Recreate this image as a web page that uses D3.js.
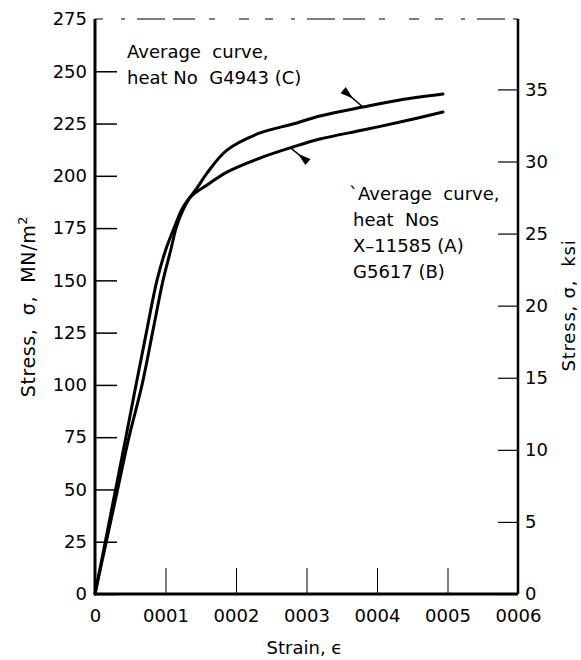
<!DOCTYPE html>
<html>
<head>
<meta charset="utf-8">
<script src="https://cdn.jsdelivr.net/npm/d3@7"></script>
<style>
body { margin: 0; background: #fff; }
text { font-family: "DejaVu Sans", sans-serif; fill: #000; }
</style>
</head>
<body>
<script>
// axis ticks
var strainTicks = [0, 0.001, 0.002, 0.003, 0.004, 0.005, 0.006]
var strainLabels = ["0", "0001", "0002", "0003", "0004", "0005", "0006"]
var stressTicks = [0, 25, 50, 75, 100, 125, 150, 175, 200, 225, 250, 275]
var ksiTicks = [0, 5, 10, 15, 20, 25, 30, 35]

// average curve, heat G4943 (C)  -- stress in MN/m^2
var curveCStrain = [0, 0.000146, 0.000292, 0.000438, 0.000582, 0.000728, 0.000879, 0.001007, 0.001121, 0.001248, 0.001447, 0.001589, 0.001872, 0.00234, 0.002809, 0.003191, 0.003801, 0.004326, 0.004936]
var curveCStress = [0, 25, 50, 75, 100, 125, 150, 165, 175, 185, 194.2, 201.3, 212.3, 220.5, 224.8, 228.6, 232.9, 236.3, 239.1]

// average curve, heats X-11585 (A) and G5617 (B)
var curveABStrain = [0, 0.00016, 0.000321, 0.000482, 0.000667, 0.000816, 0.000965, 0.001078, 0.00115, 0.00124, 0.00136, 0.001589, 0.001872, 0.00234, 0.002809, 0.003191, 0.003801, 0.004326, 0.004936]
var curveABStress = [0, 25, 50, 75, 100, 125, 150, 165, 175, 183, 190, 195.6, 201.8, 208.5, 213.8, 217.6, 221.9, 225.7, 230.5]

// leader marks: [outer end, point on curve]
var arrowCStrain = [0.00352, 0.0038]
var arrowCStress = [241.0, 232.9]
var arrowABStrain = [0.00302, 0.00277]
var arrowABStress = [206.6, 213.5]

var margin = {top: 19, right: 63, bottom: 66, left: 95}
var W = 581, H = 660
var width = W - margin.left - margin.right,
    height = H - margin.top - margin.bottom

var svg = d3.select("body")
  .append("svg")
  .attr("width", W)
  .attr("height", H)
  .append("g")
  .attr("transform", "translate(" + margin.left + "," + margin.top + ")")

var x = d3.scaleLinear().domain([0, 0.006]).range([0, width])
var y = d3.scaleLinear().domain([0, 275]).range([height, 0])
var yKsi = d3.scaleLinear().domain([0, 275 / 6.895]).range([height, 0])

// left axis (MN/m^2)
var gLeft = svg.append("g")
  .call(d3.axisLeft(y).tickValues(stressTicks).tickSize(-22).tickPadding(8))
gLeft.select(".domain").remove()
gLeft.selectAll(".tick line").attr("stroke-width", 1.5)
  .attr("stroke-opacity", function(d){ return d == 275 ? 0 : 1 })
gLeft.selectAll(".tick text").style("font-size", "18px").style("font-family", "DejaVu Sans")

// bottom axis (strain)
var gBottom = svg.append("g")
  .attr("transform", "translate(0," + height + ")")
  .call(d3.axisBottom(x).tickValues(strainTicks)
    .tickFormat(function(d, i){ return strainLabels[i] })
    .tickSize(-26).tickPadding(15))
gBottom.select(".domain").remove()
gBottom.selectAll(".tick line").attr("stroke-width", 1)
  .attr("stroke-opacity", function(d, i){ return (i == 0 || i == strainTicks.length - 1) ? 0 : 1 })
gBottom.selectAll(".tick text").style("font-size", "18px").style("font-family", "DejaVu Sans")

// right axis (ksi)
var gRight = svg.append("g")
  .attr("transform", "translate(" + width + ",0)")
  .call(d3.axisRight(yKsi).tickValues(ksiTicks).tickSize(-20).tickPadding(7))
gRight.select(".domain").remove()
gRight.selectAll(".tick line").attr("stroke-width", 1.2)
gRight.selectAll(".tick text").style("font-size", "18px").style("font-family", "DejaVu Sans")

// frame
svg.append("line").attr("x1", 0).attr("x2", 0).attr("y1", 0).attr("y2", height)
  .attr("stroke", "#000").attr("stroke-width", 3)
svg.append("line").attr("x1", width).attr("x2", width).attr("y1", 0).attr("y2", height)
  .attr("stroke", "#000").attr("stroke-width", 2.5)
svg.append("line").attr("x1", 0).attr("x2", width).attr("y1", height).attr("y2", height)
  .attr("stroke", "#000").attr("stroke-width", 3)
svg.append("line").attr("x1", 0).attr("x2", width).attr("y1", 0).attr("y2", 0)
  .attr("stroke", "#000").attr("stroke-width", 1.2)
  .attr("stroke-dasharray", "8,18,4,12,28,8,22,14,6,24,10,16")

// curves
var line = d3.line()
  .x(function(d){ return x(d[0]) })
  .y(function(d){ return y(d[1]) })
  .curve(d3.curveCatmullRom.alpha(0.5))

var curves = [
  d3.zip(curveCStrain, curveCStress),
  d3.zip(curveABStrain, curveABStress)
]
svg.selectAll("mycurves")
  .data(curves)
  .enter()
  .append("path")
  .attr("d", line)
  .attr("fill", "none")
  .attr("stroke", "#000")
  .attr("stroke-width", 3)
  .attr("stroke-linecap", "round")
  .attr("stroke-linejoin", "round")

// leader marks with small wedge at the outer end
function leader(sx, sy) {
  var x0 = x(sx[0]), y0 = y(sy[0]), x1 = x(sx[1]), y1 = y(sy[1])
  var len = Math.sqrt((x1 - x0) * (x1 - x0) + (y1 - y0) * (y1 - y0))
  var ux = (x1 - x0) / len, uy = (y1 - y0) / len
  var px = -uy, py = ux
  svg.append("line")
    .attr("x1", x0).attr("y1", y0).attr("x2", x1).attr("y2", y1)
    .attr("stroke", "#000").attr("stroke-width", 1.5)
  svg.append("path")
    .attr("d", "M" + (x0 + 4 * px) + "," + (y0 + 4 * py) +
      "L" + (x0 - 4 * px) + "," + (y0 - 4 * py) +
      "L" + (x0 + 13 * ux) + "," + (y0 + 13 * uy) + "Z")
    .attr("fill", "#000")
}
leader(arrowCStrain, arrowCStress)
leader(arrowABStrain, arrowABStress)

// annotations
var noteC = svg.append("text").style("font-size", "18px").style("white-space", "pre")
  .attr("x", 32).attr("y", 39)
noteC.append("tspan").attr("x", 32).text("Average  curve,")
noteC.append("tspan").attr("x", 32).attr("dy", 26).text("heat No  G4943 (C)")

var noteAB = svg.append("text").style("font-size", "18px").style("white-space", "pre")
  .attr("x", 254).attr("y", 181)
var abLines = ["`Average  curve,", "heat  Nos", "X\u201311585 (A)", "G5617 (B)"]
abLines.forEach(function(t, i){
  noteAB.append("tspan").attr("x", i == 0 ? 254 : 258).attr("dy", i == 0 ? 0 : 26).text(t)
})

// axis titles
var lt = svg.append("text")
  .attr("transform", "translate(" + (-60) + "," + (height / 2) + ")rotate(-90)")
  .style("text-anchor", "middle").style("font-size", "19px").style("white-space", "pre")
  .style("letter-spacing", "0.6px")
lt.append("tspan").text("Stress,  \u03c3,  MN/m")
lt.append("tspan").attr("dy", -8).style("font-size", "13px").text("2")

svg.append("text")
  .attr("transform", "translate(" + (width + 57) + "," + (height / 2 - 1) + ")rotate(-90)")
  .style("text-anchor", "middle").style("font-size", "18px")
  .style("letter-spacing", "0.8px")
  .text("Stress, \u03c3,  ksi").style("white-space", "pre")

svg.append("text")
  .attr("x", width / 2 - 2).attr("y", height + 60)
  .style("text-anchor", "middle").style("font-size", "18px")
  .text("Strain, \u03f5")
</script>
</body>
</html>
